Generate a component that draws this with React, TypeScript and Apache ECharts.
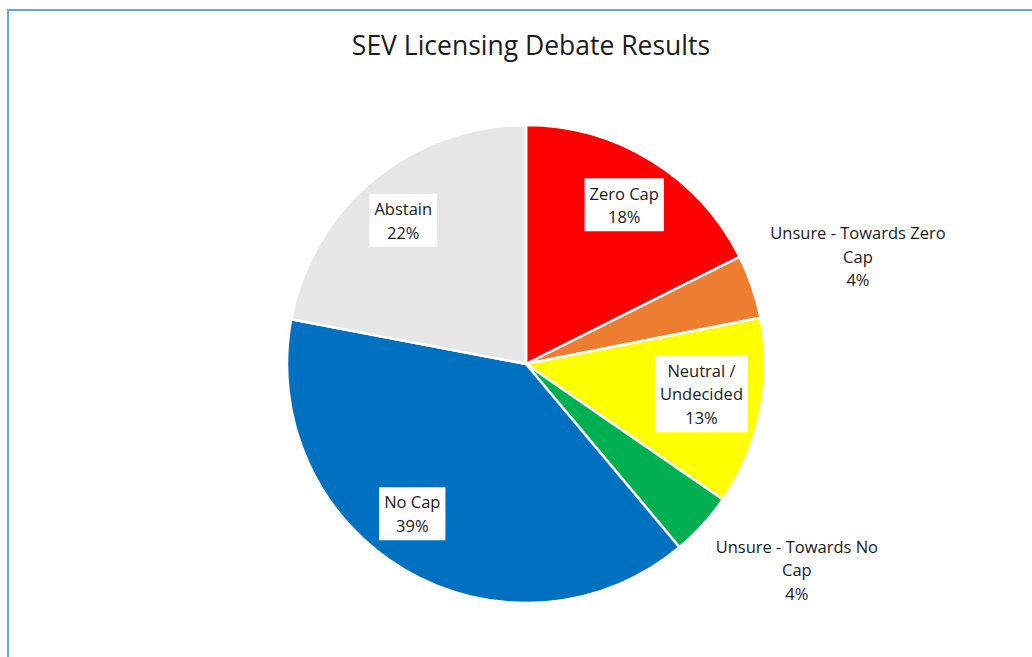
import React, { useEffect, useRef } from "react";
import * as echarts from "echarts";

const title = "SEV Licensing Debate Results";
const categories = [
  "Zero Cap",
  "Unsure - Towards Zero Cap",
  "Neutral / Undecided",
  "Unsure - Towards No Cap",
  "No Cap",
  "Abstain",
];
// label text as wrapped in the picture
const labelTexts = [
  "Zero Cap",
  "Unsure - Towards Zero\nCap",
  "Neutral /\nUndecided",
  "Unsure - Towards No\nCap",
  "No Cap",
  "Abstain",
];
// shares (percent)
const values = [17.6, 4.3, 12.7, 4.3, 39.1, 22.0];
const colors = ["#FF0000", "#ED7D31", "#FFFF00", "#00B050", "#0070C0", "#E7E6E6"];

// label placement styling (distance from centre in px, angle shift in degrees, boxed)
const labelDist = [187, 349, 178, 340, 188, 189];
const labelShift = [0, 0.9, -2, -5.1, 6.8, -0.9];
const labelBoxed = [true, false, true, false, true, true];

const CX = 526;
const CY = 364;
const R = 239;

export default function App() {
  const ref = useRef<HTMLDivElement>(null);
  useEffect(() => {
    if (!ref.current) return;
    const chart = echarts.init(ref.current, undefined, { renderer: "svg" });
    const total = values.reduce((a, b) => a + b, 0);
    const mids: number[] = [];
    let acc = 0;
    values.forEach((v) => {
      mids.push(((acc + v / 2) / total) * 360);
      acc += v;
    });
    chart.setOption({
      animation: false,
      backgroundColor: "#ffffff",
      title: {
        text: title,
        left: CX,
        textAlign: "center",
        top: 26,
        textStyle: {
          fontFamily: "Open Sans",
          fontSize: 26.5,
          fontWeight: "normal",
          color: "#1a1a1a",
        },
      },
      graphic: [
        {
          type: "rect",
          shape: { x: 8, y: 10, width: 1200, height: 800 },
          style: { fill: "none", stroke: "#6AA5DD", lineWidth: 2 },
          silent: true,
        },
      ],
      series: [
        {
          type: "pie",
          center: [CX, CY],
          radius: [0, R],
          startAngle: 90,
          clockwise: true,
          label: {
            show: true,
            position: "inside",
            formatter: (p: any) =>
              `${labelTexts[p.dataIndex]}\n${Math.round(p.percent)}%`,
            fontFamily: "Open Sans",
            fontSize: 16.5,
            lineHeight: 23.5,
            color: "#1a1a1a",
            align: "center",
          },
          labelLine: { show: false },
          itemStyle: { borderColor: "#ffffff", borderWidth: 2.5 },
          emphasis: { disabled: true },
          labelLayout: (params: any) => {
            const i = params.dataIndex;
            const a = ((mids[i] + labelShift[i]) * Math.PI) / 180;
            return {
              x: CX + labelDist[i] * Math.sin(a),
              y: CY - labelDist[i] * Math.cos(a),
              align: "center",
              verticalAlign: "middle",
            };
          },
          data: categories.map((name, i) => ({
            name,
            value: values[i],
            itemStyle: { color: colors[i] },
            label: {
              backgroundColor: labelBoxed[i] ? "#ffffff" : "transparent",
              padding: labelBoxed[i] ? [3, 5] : 0,
            },
          })),
        },
      ],
    });
    return () => chart.dispose();
  }, []);
  return (
    <div
      ref={ref}
      style={{ position: "fixed", left: 0, top: 0, width: 1032, height: 657 }}
    />
  );
}
